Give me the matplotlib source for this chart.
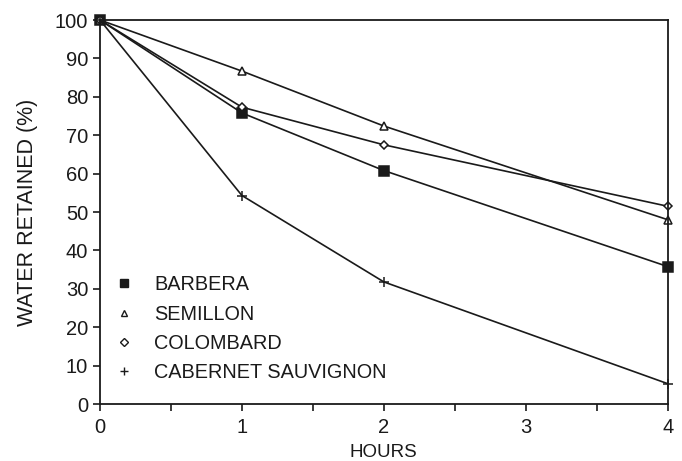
import matplotlib
matplotlib.use("Agg")
import matplotlib.pyplot as plt
from matplotlib.lines import Line2D

plt.rcParams["font.family"] = ["Liberation Sans", "DejaVu Sans"]

hours = [0, 1, 2, 4]
barbera = [100, 75.8, 60.8, 35.8]
semillon = [100, 86.7, 72.4, 48.0]
colombard = [100, 77.3, 67.5, 51.5]
cabernet = [100, 54.3, 31.8, 5.3]

series = [
    ("BARBERA", barbera, dict(marker="s", markersize=6.5, markerfacecolor="#1a1a1a")),
    ("SEMILLON", semillon, dict(marker="^", markersize=5.5, markerfacecolor="white")),
    ("COLOMBARD", colombard, dict(marker="D", markersize=4.5, markerfacecolor="white")),
    ("CABERNET SAUVIGNON", cabernet, dict(marker="+", markersize=7)),
]

fig = plt.figure(figsize=(6.82, 4.61), dpi=100)
ax = fig.add_axes([0.1466, 0.1236, 0.8324, 0.833])

handles = []
for name, vals, st in series:
    ax.plot(hours, vals, color="#1a1a1a", lw=1.2, markeredgecolor="#1a1a1a",
            markeredgewidth=1.1, clip_on=False, **st)
    handles.append(Line2D([], [], linestyle="none", color="#1a1a1a",
                          markeredgecolor="#1a1a1a", markeredgewidth=1.0,
                          **{**st, "markersize": st["markersize"] * 0.85}))

ax.set_xlim(0, 4)
ax.set_ylim(0, 100)
ax.set_xticks([0, 1, 2, 3, 4])
ax.set_xticks([0.5, 1.5, 2.5, 3.5], minor=True)
ax.set_yticks(range(0, 101, 10))
ax.tick_params(axis="both", which="both", labelsize=14.5, direction="out",
               length=5, width=1.2, color="#1a1a1a", labelcolor="#1a1a1a")
ax.tick_params(axis="x", which="major", pad=5)
for s in ax.spines.values():
    s.set_linewidth(1.3)
    s.set_color("#1a1a1a")

ax.set_xlabel("HOURS", fontsize=13.5, labelpad=5, color="#1a1a1a")
ax.set_ylabel("WATER RETAINED (%)", fontsize=15.5, labelpad=12, color="#1a1a1a")

ax.legend(handles, [s[0] for s in series], loc="lower left",
          bbox_to_anchor=(-0.006, 0.01), frameon=False, fontsize=14.3,
          handlelength=1.0, handletextpad=1.0, labelspacing=0.52,
          labelcolor="#1a1a1a")

fig.savefig("out.png", dpi=100)
